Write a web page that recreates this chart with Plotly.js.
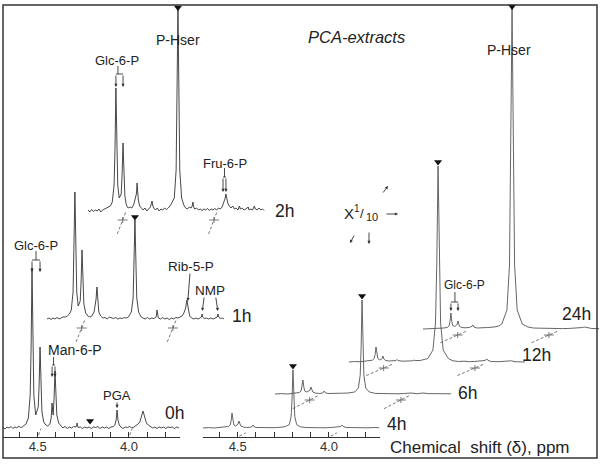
<!DOCTYPE html>
<html><head><meta charset="utf-8">
<script src="https://cdn.plot.ly/plotly-3.0.1.min.js"></script>
<style>html,body{margin:0;padding:0;background:#fff}#chart{width:603px;height:464px}</style>
</head><body><div id="chart"></div>
<script>
// ---------- DATA (ppm, intensity a.u.) ----------
const timeLabels = ['0h','1h','2h','4h','6h','12h','24h'];

const spec_0h = [[4.690,0.5],[4.678,-1],[4.668,1],[4.657,0],[4.646,1.5],[4.636,-0.5],[4.625,1],[4.614,0],[4.604,2],[4.595,0.5],[4.585,1],[4.575,2.5],[4.564,4],[4.551,10],[4.541,33],[4.536,80],[4.5335,128],[4.531,160],[4.5285,127],[4.526,79],[4.521,33],[4.511,13],[4.497,21],[4.492,43],[4.4895,66],[4.487,81],[4.4845,65],[4.482,41],[4.477,17],[4.467,6],[4.455,3],[4.445,2],[4.433,4],[4.426,10],[4.4235,18],[4.421,25],[4.4185,18],[4.415,13],[4.41,30],[4.4075,46],[4.405,57],[4.4025,46],[4.40,30],[4.395,13],[4.385,5],[4.373,2],[4.362,0],[4.350,1.5],[4.338,-0.5],[4.326,1],[4.314,0],[4.302,1.5],[4.290,1],[4.2855,3],[4.284,5],[4.2825,3],[4.278,0.5],[4.266,1],[4.254,-0.5],[4.242,1],[4.230,0],[4.218,1],[4.206,-0.5],[4.194,1],[4.182,0.5],[4.170,1.5],[4.158,-0.5],[4.146,1],[4.134,0],[4.122,1],[4.110,-0.5],[4.098,1],[4.086,1.5],[4.077,3],[4.070,8],[4.067,14],[4.065,18],[4.063,14],[4.060,8],[4.053,3],[4.044,1],[4.032,-0.5],[4.020,1],[4.008,0.5],[3.996,1.5],[3.984,0],[3.972,1],[3.962,2],[3.950,4],[3.940,6],[3.933,10],[3.928,15],[3.923,17],[3.918,14],[3.912,9],[3.904,5],[3.894,3],[3.882,1.5],[3.870,0],[3.858,1],[3.846,-0.5],[3.834,1],[3.822,0],[3.810,1],[3.798,-0.5],[3.786,1],[3.774,0.5],[3.762,1],[3.750,-0.5],[3.738,1],[3.725,0]];

const spec_1h = [[4.690,0],[4.679,1],[4.668,-0.5],[4.657,1],[4.646,0],[4.635,1.5],[4.624,0],[4.613,1],[4.602,2],[4.590,2],[4.579,3],[4.567,5],[4.557,9],[4.547,27],[4.542,64],[4.5395,102],[4.537,127],[4.5345,102],[4.532,64],[4.527,27],[4.519,13],[4.508,18],[4.503,38],[4.5005,56],[4.498,69],[4.4955,55],[4.493,36],[4.488,15],[4.478,6],[4.466,3],[4.455,2],[4.444,3],[4.432,7],[4.426,13],[4.421,20],[4.4185,27],[4.416,32],[4.4135,25],[4.411,16],[4.406,7],[4.396,3],[4.384,1],[4.372,1.5],[4.360,0],[4.349,2],[4.338,1],[4.326,0.5],[4.314,1.5],[4.302,0],[4.290,1],[4.278,0.5],[4.266,1.5],[4.254,1],[4.244,2],[4.228,7],[4.218,21],[4.213,50],[4.2105,79],[4.208,99],[4.2055,79],[4.203,50],[4.198,21],[4.188,7],[4.176,2.5],[4.164,1],[4.152,0],[4.140,1.5],[4.128,0],[4.116,1],[4.104,0.5],[4.094,1.5],[4.090,4],[4.087,9],[4.084,4],[4.080,1],[4.068,0],[4.056,1.5],[4.044,0],[4.032,1],[4.020,-0.5],[4.008,1],[3.996,0],[3.984,1.5],[3.972,1],[3.960,2],[3.950,3],[3.942,5],[3.936,8],[3.930,11],[3.926,16],[3.923,19],[3.920,15],[3.915,8],[3.908,3],[3.898,1],[3.886,0],[3.874,1],[3.862,0],[3.852,1],[3.843,2],[3.840,5],[3.837,2],[3.828,0.5],[3.816,1],[3.804,0],[3.792,1],[3.780,0],[3.768,1],[3.757,2],[3.753,5],[3.749,2],[3.740,0.5],[3.728,1],[3.720,0]];

const spec_2h = [[4.690,1],[4.680,-1],[4.670,1.5],[4.660,-0.5],[4.650,1],[4.640,0],[4.630,2],[4.620,-1],[4.610,1],[4.600,2],[4.590,3],[4.579,4],[4.567,5],[4.557,9],[4.547,26],[4.542,62],[4.5395,99],[4.537,123],[4.5345,98],[4.532,62],[4.527,26],[4.519,13],[4.508,17],[4.503,37],[4.5005,55],[4.498,68],[4.4955,54],[4.493,36],[4.488,15],[4.480,6],[4.470,3],[4.460,4],[4.450,3],[4.440,6],[4.433,12],[4.429,15],[4.425,17],[4.4225,23],[4.421,28],[4.418,20],[4.414,11],[4.407,5],[4.398,3],[4.388,1],[4.378,3],[4.368,0],[4.358,2],[4.348,4],[4.342,8],[4.339,10],[4.336,6],[4.330,3],[4.320,1],[4.310,3],[4.300,0],[4.290,2],[4.280,1],[4.270,3],[4.260,1.5],[4.250,3],[4.237,6],[4.217,13],[4.207,41],[4.202,102],[4.1995,163],[4.197,204],[4.1945,163],[4.192,102],[4.187,41],[4.177,13],[4.165,6],[4.155,3],[4.145,2],[4.135,4],[4.125,3],[4.119,5],[4.115,9],[4.111,4],[4.105,2],[4.095,3],[4.085,1],[4.075,2],[4.065,0.5],[4.055,2],[4.045,1],[4.035,2.5],[4.025,0.5],[4.015,2],[4.005,1],[3.995,2.5],[3.985,1],[3.975,3],[3.965,2],[3.955,4],[3.948,7],[3.943,9],[3.938,13],[3.934,17],[3.930,13],[3.924,8],[3.916,5],[3.906,3],[3.896,5],[3.888,2],[3.878,3],[3.868,1],[3.860,5],[3.855,2],[3.845,3],[3.835,1],[3.825,2],[3.812,4],[3.808,1],[3.798,2],[3.788,1],[3.778,5],[3.773,2],[3.763,1],[3.753,3],[3.743,1],[3.733,2],[3.725,0.5]];

const spec_4h = [[4.690,0],[4.660,0.4],[4.630,0],[4.600,0.5],[4.570,0.5],[4.551,1.5],[4.541,3],[4.536,7],[4.531,15],[4.526,7],[4.521,3],[4.511,2],[4.503,3],[4.498,4],[4.493,7],[4.488,4],[4.483,2],[4.470,1],[4.450,0.5],[4.430,0.8],[4.421,1.5],[4.416,3],[4.411,1.5],[4.400,0.5],[4.370,0.3],[4.340,0.6],[4.300,0.3],[4.260,0.8],[4.237,1.5],[4.217,3.5],[4.207,11.6],[4.202,29],[4.1995,46],[4.197,58],[4.1945,46],[4.192,29],[4.187,11.6],[4.177,3.5],[4.157,1.2],[4.130,0.5],[4.100,0.3],[4.060,0.5],[4.020,0.2],[3.980,0.6],[3.950,0.8],[3.935,1.5],[3.928,3],[3.921,1.5],[3.905,0.5],[3.870,0.3],[3.830,0.6],[3.790,0.2],[3.750,0.5],[3.725,0.3]];

const spec_6h = [[4.690,0],[4.655,0.4],[4.620,0],[4.590,0.6],[4.565,1],[4.557,1.5],[4.547,3],[4.542,7],[4.537,14],[4.532,7],[4.527,3],[4.515,2],[4.503,3],[4.498,4],[4.493,7],[4.488,4],[4.483,2],[4.470,1],[4.445,0.5],[4.430,1],[4.425,1.5],[4.420,3],[4.415,1.5],[4.400,0.5],[4.360,0.4],[4.320,0.8],[4.290,1],[4.253,2],[4.233,6],[4.223,19],[4.218,47],[4.2155,75],[4.213,94],[4.2105,75],[4.208,47],[4.203,19],[4.193,6],[4.173,2],[4.140,0.6],[4.100,0.3],[4.060,0.6],[4.020,0.2],[3.980,0.5],[3.955,1],[3.950,1.5],[3.945,1],[3.910,0.3],[3.880,1],[3.850,0.4],[3.800,0.2],[3.760,0.5],[3.725,0.2]];

const spec_12h = [[4.690,0],[4.660,0.5],[4.630,0.2],[4.600,0.6],[4.575,1],[4.562,1.8],[4.552,3.5],[4.547,7.5],[4.542,15],[4.537,7.5],[4.532,3.5],[4.522,2.2],[4.514,2.5],[4.509,3.5],[4.504,6],[4.499,3],[4.490,1.5],[4.470,1],[4.440,1],[4.432,1.5],[4.427,2.5],[4.422,1.5],[4.400,0.8],[4.370,1],[4.340,1.2],[4.333,2],[4.328,1.5],[4.300,1.5],[4.280,2.2],[4.258,3.5],[4.230,12],[4.216,39],[4.209,98],[4.2055,157],[4.202,196],[4.1985,157],[4.195,98],[4.188,39],[4.174,12],[4.146,3.5],[4.120,1.2],[4.090,0.5],[4.060,0.8],[4.030,0.3],[4.000,0.6],[3.960,0.8],[3.945,1.5],[3.938,2.5],[3.934,3],[3.928,1.5],[3.910,0.5],[3.870,0.3],[3.830,0.8],[3.800,1.2],[3.780,0.3],[3.750,0.5],[3.725,0]];

const spec_24h = [[4.690,0],[4.660,0.3],[4.630,0],[4.600,0.5],[4.575,1],[4.557,1.6],[4.547,3.2],[4.542,7.5],[4.537,16],[4.532,7.5],[4.527,3.5],[4.516,2.5],[4.508,3.5],[4.503,4.5],[4.498,8],[4.493,4],[4.485,2],[4.465,1.2],[4.435,1.5],[4.425,2],[4.420,3],[4.416,4],[4.411,2],[4.395,1],[4.365,1],[4.335,1.5],[4.300,2],[4.275,3],[4.258,5],[4.230,19],[4.216,64],[4.209,160],[4.2055,256],[4.202,320],[4.1985,256],[4.195,160],[4.188,64],[4.174,19],[4.146,5],[4.115,2],[4.085,1],[4.045,0.8],[4.005,0.5],[3.965,0.8],[3.925,0.4],[3.885,0.6],[3.845,0.8],[3.815,1.5],[3.805,2],[3.795,1.5],[3.765,0.5],[3.725,0.3]];

// P-Hser markers (triangles)
const phserPPM  = [4.213, 4.208, 4.197, 4.197, 4.213, 4.202, 4.202];
const phserMark = [7, 102, 203.5, 62, 98, 200, 322.5];

const tickVals = [4.6,4.5,4.4,4.3,4.2,4.1,4.0,3.9,3.8];
const tickText = ['','4.5','','','','','4.0','',''];

// ---------- LAYOUT GEOMETRY ----------
const W = 603, H = 464, SPAN = 177, R0 = 4.69, R1 = 3.72;
const X0   = [3, 47, 88, 203, 275, 349, 423];
const BASE = [428, 319, 211, 428, 394, 362, 329];
const AXIS_Y = 437;
const FONT = 'Liberation Sans, Arial, Helvetica, sans-serif';
const spectra = [spec_0h, spec_1h, spec_2h, spec_4h, spec_6h, spec_12h, spec_24h];

const xid = k => k === 0 ? 'x' : 'x' + (k + 1);
const yid = k => k === 0 ? 'y' : 'y' + (k + 1);
const px2x = x => x / W, px2y = y => 1 - y / H;

const layout = {
  width: W, height: H, margin: {l:0, r:0, t:0, b:0, pad:0},
  paper_bgcolor: '#fff', plot_bgcolor: 'rgba(0,0,0,0)',
  showlegend: false, hovermode: false,
  font: {family: FONT, color: '#222'},
  shapes: [], annotations: []
};

const traces = [];
spectra.forEach((s, k) => {
  const xa = {domain: [X0[k]/W, (X0[k]+SPAN)/W], range: [R0, R1], visible: false, fixedrange: true, anchor: yid(k)};
  if (k === 0 || k === 3) {
    Object.assign(xa, {visible: true, anchor: 'free', position: (H - AXIS_Y)/H, showline: true, linecolor: '#333', linewidth: 1,
      ticks: 'inside', ticklen: 5, tickcolor: '#333', tickwidth: 1, tickvals: tickVals, ticktext: tickText,
      ticklabelstandoff: -3,
      showgrid: false, zeroline: false, tickfont: {family: FONT, size: 13, color: '#333'}});
  }
  const ya = {domain: [(H - BASE[k] - 6)/H, 1], range: [-6, BASE[k]], visible: false, fixedrange: true, anchor: xid(k)};
  layout[k === 0 ? 'xaxis' : 'xaxis' + (k+1)] = xa;
  layout[k === 0 ? 'yaxis' : 'yaxis' + (k+1)] = ya;
  traces.push({type: 'scatter', mode: 'lines', x: s.map(p => p[0]), y: s.map(p => p[1]),
    xaxis: xid(k), yaxis: yid(k), line: {color: k < 3 ? '#333' : '#555', width: 0.9}, hoverinfo: 'skip', name: timeLabels[k]});
  traces.push({type: 'scatter', mode: 'markers', x: [phserPPM[k]], y: [phserMark[k]], xaxis: xid(k), yaxis: yid(k),
    marker: {symbol: 'triangle-down', size: 7, color: '#111'}, cliponaxis: false, hoverinfo: 'skip'});
});

// helpers for labels on a spectrum
function SL(k, ppm, v, text, size, extra) {
  layout.annotations.push(Object.assign({xref: xid(k), yref: yid(k), x: ppm, y: v, text: text, showarrow: false,
    font: {family: FONT, size: size || 13, color: '#222'}, xanchor: 'center', yanchor: 'middle'}, extra || {}));
}
function SA(k, pt, vt, ph, vh) {
  layout.annotations.push({xref: xid(k), yref: yid(k), axref: xid(k), ayref: yid(k), x: ph, y: vh, ax: pt, ay: vt,
    text: '', showarrow: true, arrowhead: 2, arrowsize: 0.7, arrowwidth: 0.9, arrowcolor: '#333', standoff: 0});
}
function SS(k, p0, v0, p1, v1) {
  layout.shapes.push({type: 'line', xref: xid(k), yref: yid(k), x0: p0, y0: v0, x1: p1, y1: v1, line: {color: '#333', width: 0.9}});
}
function bracket(k, stemP, vTop, vBar, pA, pB, vTip) {
  SS(k, stemP, vTop, stemP, vBar);
  SS(k, pA, vBar, pB, vBar);
  SA(k, pA, vBar, pA, vTip);
  SA(k, pB, vBar, pB, vTip);
}

// 2h labels
SL(2, 4.531, 151, 'Glc-6-P', 13);
bracket(2, 4.526, 145, 137, 4.537, 4.498, 124);
SL(2, 4.197, 171, 'P-Hser', 14);
SL(2, 3.939, 48, 'Fru-6-P', 13);
bracket(2, 3.942, 43, 34, 3.950, 3.934, 19);
// 0h labels
SL(0, 4.509, 183, 'Glc-6-P', 13);
bracket(0, 4.509, 177, 168, 4.531, 4.487, 156);
SL(0, 4.295, 78, 'Man-6-P', 14);
bracket(0, 4.413, 71, 63, 4.421, 4.405, 51);
SL(0, 4.065, 33, 'PGA', 13);
SA(0, 4.065, 27, 4.065, 20);
// 1h labels
SL(1, 3.901, 53, 'Rib-5-P', 13.5);
SA(1, 3.906, 47, 3.918, 18);
SL(1, 3.797, 29, 'NMP', 13.5);
SA(1, 3.828, 23, 3.839, 8);
SA(1, 3.766, 23, 3.754, 8);
// 24h labels
SL(6, 4.460, 44, 'Glc-6-P', 12);
bracket(6, 4.515, 37, 27, 4.537, 4.498, 18);
SL(6, 4.219, 279, 'P-Hser', 14);

// paper labels
function PL(text, x, y, size, extra) {
  layout.annotations.push(Object.assign({xref: 'paper', yref: 'paper', x: px2x(x), y: px2y(y), text: text, showarrow: false,
    font: Object.assign({family: FONT, size: size, color: '#222'}, (extra && extra.fontExtra) || {}), xanchor: 'center', yanchor: 'middle'}));
}
function PA(tx, ty, hx, hy) {
  layout.annotations.push({xref: 'paper', yref: 'paper', x: px2x(hx), y: px2y(hy), ax: tx - hx, ay: ty - hy,
    text: '', showarrow: true, arrowhead: 2, arrowsize: 0.7, arrowwidth: 0.9, arrowcolor: '#333', standoff: 0});
}
const labelPos = [[174,413],[241,316],[284,211],[396,424],[467,393],[536,355],[576,314]];
timeLabels.forEach((t, i) => PL(t, labelPos[i][0], labelPos[i][1], 17.5));
PL('PCA-extracts', 356, 37, 16.5, {fontExtra: {style: 'italic'}});
PL('Chemical\u00a0\u00a0shift (\u03b4), ppm', 480, 447, 17);
PL('X', 349, 213, 15);
PL('1', 357, 208, 10);
PL('/', 362, 213, 13);
PL('10', 372, 217, 11);
PA(385, 214, 398, 214);
PA(382, 194, 388, 186);
PA(355, 234, 350, 243);
PA(369, 231, 369, 244);

// perspective connectors (dashed) with crosses
function xpx(k, ppm) { return X0[k] + (R0 - ppm) / (R0 - R1) * SPAN; }
function ptY(k) { return (k === 0 || k === 3) ? AXIS_Y : BASE[k] + (k < 3 ? 9 : 6); }
function pline(x0, y0, x1, y1, dash, w) {
  layout.shapes.push({type: 'line', xref: 'paper', yref: 'paper', x0: px2x(x0), y0: px2y(y0), x1: px2x(x1), y1: px2y(y1),
    line: {color: '#555', width: w || 0.8, dash: dash || 'solid'}});
}
[[0,1,2],[3,4,5,6]].forEach(g => {
  [4.5, 4.0].forEach(ppm => {
    for (let i = 1; i < g.length; i++) {
      const k = g[i], kp = g[i-1];
      const P = [xpx(k, ppm), ptY(k)], Q = [xpx(kp, ppm), ptY(kp)];
      let dx = P[0]-Q[0], dy = P[1]-Q[1]; const L = Math.hypot(dx, dy); dx /= L; dy /= L;
      const a = k < 3 ? 15 : 19, b = k < 3 ? 8 : 11;
      pline(P[0]-a*dx, P[1]-a*dy, P[0]+b*dx, P[1]+b*dy, '3px,2px');
      pline(P[0]-5, P[1], P[0]+5, P[1]);
      pline(P[0], P[1]-3, P[0], P[1]+3);
      if (i === 1) pline(Q[0]+2*dx, Q[1]+2*dy, Q[0]+9*dx, Q[1]+9*dy, '3px,2px');
    }
  });
});

// frame
layout.shapes.push({type: 'rect', xref: 'paper', yref: 'paper', x0: px2x(3), y0: px2y(458), x1: px2x(597), y1: px2y(5),
  line: {color: '#333', width: 1.5}, fillcolor: 'rgba(0,0,0,0)'});

Plotly.newPlot('chart', traces, layout, {displayModeBar: false, staticPlot: true});
</script></body></html>
